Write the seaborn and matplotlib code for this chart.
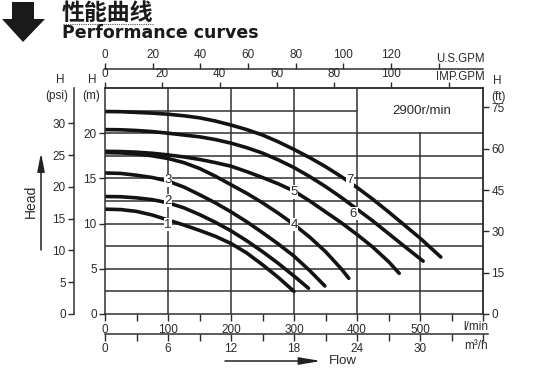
import numpy as np
import pandas as pd
import matplotlib
matplotlib.use('Agg')
import matplotlib.pyplot as plt
import seaborn as sns
from matplotlib.patches import Polygon, FancyArrowPatch
from matplotlib.lines import Line2D

# pump curves: flow in l/min, head in m
flow_1 = [0, 25, 50, 75, 100, 125, 150, 175, 200, 225, 250, 275, 300]
head_1 = [11.6, 11.55, 11.35, 10.95, 10.4, 9.85, 9.25, 8.6, 7.8, 6.75, 5.45, 4.05, 2.5]
flow_2 = [0, 25, 50, 75, 100, 125, 150, 175, 200, 225, 250, 275, 300, 323]
head_2 = [13.0, 12.97, 12.85, 12.65, 12.3, 11.75, 11.0, 10.15, 9.2, 8.1, 6.9, 5.6, 4.2, 2.85]
flow_3 = [0, 25, 50, 75, 100, 125, 150, 175, 200, 225, 250, 275, 300, 325, 349]
head_3 = [15.6, 15.55, 15.35, 15.1, 14.7, 14.05, 13.2, 12.3, 11.3, 10.2, 9.0, 7.75, 6.4, 4.8, 3.1]
flow_4 = [0, 25, 50, 75, 100, 125, 150, 175, 200, 225, 250, 275, 300, 325, 350, 375, 387]
head_4 = [17.85, 17.82, 17.7, 17.5, 17.2, 16.75, 16.1, 15.25, 14.3, 13.35, 12.3, 11.15, 9.9,
          8.5, 6.9, 5.0, 3.95]
flow_5 = [0, 25, 50, 75, 100, 125, 150, 175, 200, 225, 250, 275, 300, 325, 350, 375, 400,
          425, 450, 467]
head_5 = [18.0, 17.97, 17.9, 17.78, 17.6, 17.38, 17.1, 16.75, 16.35, 15.75, 15.1, 14.4, 13.6,
          12.5, 11.3, 10.1, 8.8, 7.4, 5.8, 4.5]
flow_6 = [0, 25, 50, 75, 100, 125, 150, 175, 200, 225, 250, 275, 300, 325, 350, 375, 400,
          425, 450, 475, 505]
head_6 = [20.4, 20.38, 20.3, 20.18, 20.0, 19.8, 19.6, 19.3, 18.9, 18.4, 17.8, 17.05, 16.2,
          15.2, 14.1, 12.9, 11.6, 10.3, 8.9, 7.5, 5.85]
flow_7 = [0, 25, 50, 75, 100, 125, 150, 175, 200, 225, 250, 275, 300, 325, 350, 375, 400,
          425, 450, 475, 500, 533]
head_7 = [22.4, 22.38, 22.3, 22.22, 22.1, 21.93, 21.7, 21.35, 20.9, 20.4, 19.8, 19.05, 18.2,
          17.3, 16.3, 15.2, 14.0, 12.7, 11.3, 9.85, 8.4, 6.3]

curve_names = ['1', '2', '3', '4', '5', '6', '7']
label_flow = [100, 100, 100, 300, 300, 394, 389]
label_head = [9.9, 12.55, 14.8, 9.9, 13.5, 11.1, 14.8]

m_ticks = [0, 5, 10, 15, 20]
psi_ticks = [0, 5, 10, 15, 20, 25, 30]
ft_ticks = [0, 15, 30, 45, 60, 75]
lmin_ticks = list(range(0, 601, 50))
m3h_ticks = list(range(0, 37, 3))
imp_ticks = [0, 20, 40, 60, 80, 100, 120]
us_ticks = [0, 20, 40, 60, 80, 100, 120, 140]

PSI_PER_M = 1.42233
FT_PER_M = 3.28084
IMP_GAL = 4.54609
US_GAL = 3.78541

flows = [flow_1, flow_2, flow_3, flow_4, flow_5, flow_6, flow_7]
heads = [head_1, head_2, head_3, head_4, head_5, head_6, head_7]
curves = pd.concat([pd.DataFrame({'flow': f, 'head': h, 'pump': n})
                    for f, h, n in zip(flows, heads, curve_names)], ignore_index=True)

sns.set_theme(style='white')
plt.rcParams['font.family'] = ['Liberation Sans', 'Noto Sans CJK SC', 'DejaVu Sans']

INK = '#2b2b2b'
W, H = 554, 369


def fx(px):
    return px / W


def fy(py):
    return 1 - py / H


fig = plt.figure(figsize=(W / 100, H / 100), dpi=100)
ax = fig.add_axes([fx(105), fy(314), (483 - 105) / W, (314 - 88) / H])
ax.set_xlim(0, 600)
ax.set_ylim(0, 25)

# grid: every 2.5 m, every 100 l/min; corner box kept open for the speed note
for h in np.arange(2.5, 25, 2.5):
    ax.axhline(h, xmax=(400 / 600 if h > 20 else 1), color='#303030', lw=1.1, zorder=1)
for q in range(100, 600, 100):
    ax.axvline(q, ymax=(20 / 25 if q == 500 else 1), color='#303030', lw=1.1, zorder=1)

sns.lineplot(data=curves, x='flow', y='head', hue='pump', palette=['#171212'] * 7,
             legend=False, ax=ax, linewidth=2.6, estimator=None, sort=False,
             solid_joinstyle='round', zorder=2)
ax.set_xlabel('')
ax.set_ylabel('')

for n, q, h in zip(curve_names, label_flow, label_head):
    ax.text(q, h, n, ha='center', va='center', fontsize=9.5, color=INK, zorder=3,
            bbox=dict(boxstyle='square,pad=0.05', fc='white', ec='none'))

tick_kw = dict(direction='out', length=4, width=1, colors=INK, labelsize=8.5, pad=2)

for s in ax.spines.values():
    s.set_color('#303030')
    s.set_linewidth(1.1)
ax.set_yticks(m_ticks)
ax.set_xticks(lmin_ticks)
ax.set_xticklabels([str(v) if v % 100 == 0 and v < 600 else '' for v in lmin_ticks])
ax.tick_params(axis='both', **tick_kw)
ax.tick_params(axis='x', length=5)


def only_spine(a, name):
    for k, s in a.spines.items():
        s.set_visible(k == name)
        s.set_color('#303030')
        s.set_linewidth(1.1)


# IMP.GPM on the top frame
ax_imp = ax.twiny()
ax_imp.set_xlim(0, 600 / IMP_GAL)
ax_imp.set_xticks(imp_ticks)
ax_imp.set_xticklabels([str(v) if v < 120 else '' for v in imp_ticks])
only_spine(ax_imp, 'top')
ax_imp.tick_params(axis='x', **tick_kw)

# U.S.GPM on a raised line
ax_us = ax.twiny()
ax_us.set_xlim(0, 600 / US_GAL)
ax_us.spines['top'].set_position(('axes', 1 + 19 / 226))
ax_us.set_xticks(us_ticks)
ax_us.set_xticklabels([str(v) if v < 140 else '' for v in us_ticks])
only_spine(ax_us, 'top')
ax_us.tick_params(axis='x', **tick_kw)

# m3/h under the l/min scale
ax_m3 = ax.twiny()
ax_m3.set_xlim(0, 36)
ax_m3.xaxis.set_ticks_position('bottom')
ax_m3.xaxis.set_label_position('bottom')
ax_m3.spines['bottom'].set_position(('axes', -20 / 226))
ax_m3.set_xticks(m3h_ticks)
ax_m3.set_xticklabels([str(v) if v % 6 == 0 and v < 36 else '' for v in m3h_ticks])
only_spine(ax_m3, 'bottom')
ax_m3.spines['bottom'].set_bounds(0, 36.5)
ax_m3.tick_params(axis='x', **tick_kw)
ax_m3.tick_params(axis='x', length=5, pad=1.5)

# psi on a separate left line
ax_psi = ax.twinx()
ax_psi.set_ylim(0, 25 * PSI_PER_M)
ax_psi.yaxis.set_ticks_position('left')
ax_psi.yaxis.set_label_position('left')
ax_psi.spines['left'].set_position(('axes', -31 / 378))
ax_psi.set_yticks(psi_ticks)
only_spine(ax_psi, 'left')
ax_psi.tick_params(axis='y', **tick_kw)

# ft on the right frame
ax_ft = ax.twinx()
ax_ft.set_ylim(0, 25 * FT_PER_M)
ax_ft.set_yticks(ft_ticks)
only_spine(ax_ft, 'right')
ax_ft.tick_params(axis='y', **tick_kw)

txt = dict(color=INK, ha='center', va='center', fontsize=8.5)
fig.text(fx(60), fy(80), 'H', **txt)
fig.text(fx(57), fy(96), '(psi)', **txt)
fig.text(fx(92), fy(80), 'H', **txt)
fig.text(fx(91), fy(96), '(m)', **txt)
fig.text(fx(497), fy(81), 'H', **txt)
fig.text(fx(498), fy(97), '(ft)', **txt)
fig.text(fx(422), fy(111), '2900r/min', color=INK, ha='center', va='center', fontsize=9.5)
fig.text(fx(485), fy(59), 'U.S.GPM', color=INK, ha='right', va='center', fontsize=8.3)
fig.text(fx(485), fy(77), 'IMP.GPM', color=INK, ha='right', va='center', fontsize=8.3)
fig.text(fx(488), fy(327), 'l/min', color=INK, ha='right', va='center', fontsize=8.5)
fig.text(fx(488), fy(346), 'm³/h', color=INK, ha='right', va='center', fontsize=8.5)
fig.text(fx(31), fy(201), 'Head', color=INK, ha='center', va='center', fontsize=10, rotation=90)
fig.text(fx(329), fy(361), 'Flow', color=INK, ha='left', va='center', fontsize=9.5)

# axis arrows
fig.add_artist(FancyArrowPatch((fx(41), fy(250)), (fx(41), fy(153)), transform=fig.transFigure,
                               arrowstyle='-|>,head_length=1.1,head_width=0.22',
                               mutation_scale=10, color='#222222', lw=1.1, shrinkA=0, shrinkB=0))
fig.add_artist(FancyArrowPatch((fx(225), fy(361)), (fx(321), fy(361)), transform=fig.transFigure,
                               arrowstyle='-|>,head_length=1.3,head_width=0.22',
                               mutation_scale=10, color='#222222', lw=1.1, shrinkA=0, shrinkB=0))

# header
big_arrow = [(12, 2), (34, 2), (34, 19), (45, 19), (23, 42), (2, 19), (12, 19)]
fig.add_artist(Polygon([(fx(x), fy(y)) for x, y in big_arrow], closed=True,
                       transform=fig.transFigure, fc='#1a1a1a', ec='none'))
fig.text(fx(62), fy(13), '性能曲线', family=['Noto Sans CJK SC', 'DejaVu Sans'],
         fontweight='bold', fontsize=16.5, color='#1a1a1a', ha='left', va='center')
fig.add_artist(Line2D([fx(63), fx(153)], [fy(24), fy(24)], transform=fig.transFigure,
                      lw=0.8, ls=(0, (1, 1)), color='#555555'))
fig.text(fx(62), fy(38.5), 'Performance curves', family=['DejaVu Sans'],
         fontweight='bold', fontsize=12.5, color='#1a1a1a', ha='left', va='baseline')

fig.savefig('out.png', dpi=100)
